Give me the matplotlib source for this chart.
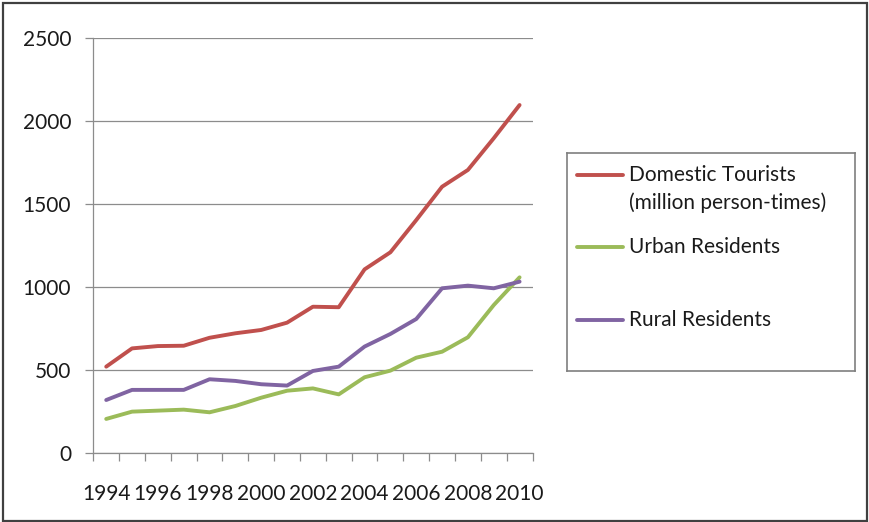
import numpy as np
import matplotlib
matplotlib.use("Agg")
import matplotlib.pyplot as plt
from matplotlib.patches import Rectangle

plt.rcParams['font.family'] = ['Lato', 'DejaVu Sans']

years = list(range(1994, 2011))
domestic = [522, 632, 646, 648, 696, 723, 743, 787, 883, 880, 1108, 1211, 1405, 1606, 1707, 1898, 2098]
urban = [207, 251, 257, 263, 247, 285, 335, 377, 391, 355, 458, 498, 576, 612, 699, 893, 1060]
rural = [321, 382, 382, 382, 446, 436, 416, 408, 496, 522, 643, 719, 809, 994, 1010, 994, 1034]
series_names = ["Domestic Tourists\n(million person-times)", "Urban Residents", "Rural Residents"]
colors = ["#C0504D", "#9BBB59", "#8064A2"]

W, H = 869, 522
fig = plt.figure(figsize=(W / 100, H / 100), dpi=100)

# plot area in pixel coords
left, right, top, bottom = 93.3, 532.5, 38.3, 453.3
ax = fig.add_axes([left / W, 1 - bottom / H, (right - left) / W, (bottom - top) / H])

x = np.arange(len(years)) + 0.5
for vals, c in zip([domestic, urban, rural], colors):
    ax.plot(x, vals, color=c, lw=2.8, solid_capstyle='round', solid_joinstyle='round', zorder=3)

ax.set_xlim(0, len(years))
ax.set_ylim(0, 2500)
ax.set_yticks(np.arange(0, 2501, 500))
ax.yaxis.grid(True, color="#8c8c8c", lw=0.9)
ax.set_axisbelow(True)

# category boundaries as ticks, labels every other year
ax.set_xticks(np.arange(0, len(years) + 1), minor=True)
ax.set_xticks(x[::2])
ax.set_xticklabels([str(y) for y in years[::2]])
ax.tick_params(axis='x', which='minor', length=6, color="#8c8c8c", width=0.9)
ax.tick_params(axis='x', which='major', length=0, pad=22, labelsize=15, labelcolor="#1a1a1a")
ax.tick_params(axis='y', length=6, color="#8c8c8c", width=0.9, pad=10, labelsize=15, labelcolor="#1a1a1a")

for s in ['top', 'right']:
    ax.spines[s].set_visible(False)
for s in ['left', 'bottom']:
    ax.spines[s].set_color("#8c8c8c")
    ax.spines[s].set_linewidth(0.9)

# legend box drawn by hand (Excel-style uneven spacing)
lx0, lx1, ly0, ly1 = 567, 855, 153, 371
lax = fig.add_axes([lx0 / W, 1 - ly1 / H, (lx1 - lx0) / W, (ly1 - ly0) / H])
lax.set_xlim(lx0, lx1)
lax.set_ylim(ly1, ly0)
lax.set_xticks([])
lax.set_yticks([])
for s in lax.spines.values():
    s.set_color("#7f7f7f")
    s.set_linewidth(1.2)
entry_y = [175, 247, 320]
for name, c, yy in zip(series_names, colors, entry_y):
    lax.plot([577, 623], [yy, yy], color=c, lw=2.8, solid_capstyle='round')
    for k, line in enumerate(name.split("\n")):
        lax.text(629, yy + 28 * k, line, fontsize=15, va='center', ha='left', color="#1a1a1a")

# outer chart border
fig.patches.append(Rectangle((3 / W, 1.5 / H), 864 / W, 517.5 / H, transform=fig.transFigure,
                             fill=False, edgecolor="#404040", lw=1.6))

fig.savefig("out.png", dpi=100)
